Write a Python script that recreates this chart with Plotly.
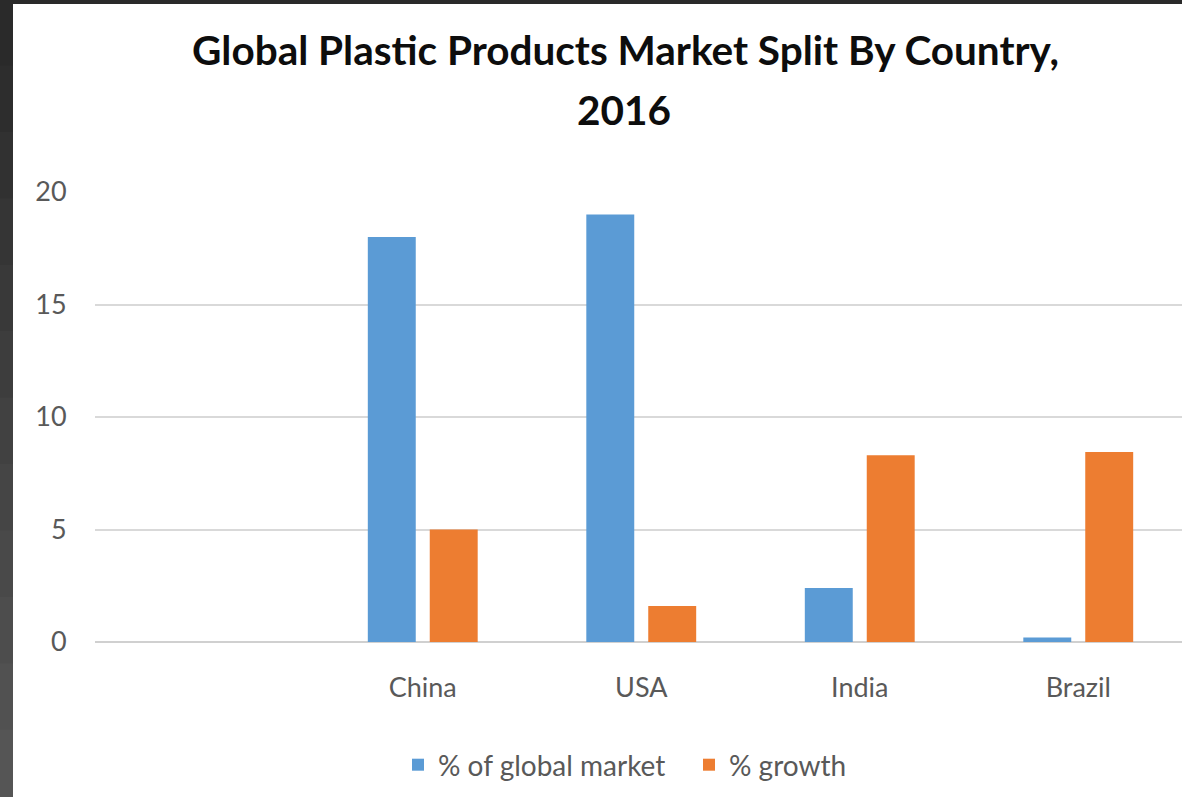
import plotly.graph_objects as go

categories = [" ", "China", "USA", "India", "Brazil"]
share_of_global_market = [None, 18.0, 19.0, 2.4, 0.2]
growth = [None, 5.0, 1.6, 8.3, 8.45]
series_names = ["% of global market", "% growth"]
y_ticks = [0, 5, 10, 15, 20]
title_lines = ["Global Plastic Products Market Split By Country,", "2016"]

BLUE = "#5b9bd5"
ORANGE = "#ed7d31"
GRAY = "#595959"
FONT = "Lato, Open Sans, sans-serif"

W, H = 1182, 797
L, R, T, B = 95, 0, 192, 155
pw = W - L - R
ph = H - T - B


def px_x(px):
    return (px - L) / pw


def px_y(py):
    return (H - B - py) / ph


fig = go.Figure()
fig.add_trace(go.Bar(x=categories, y=share_of_global_market, name=series_names[0],
                     marker=dict(color=BLUE, line=dict(width=0))))
fig.add_trace(go.Bar(x=categories, y=growth, name=series_names[1],
                     marker=dict(color=ORANGE, line=dict(width=0))))

shapes = []
# dark frame gradient on the left
steps = 12
for i in range(steps):
    y0 = i * H / steps
    y1 = (i + 1) * H / steps
    c = int(0x2a + (0x55 - 0x2a) * i / (steps - 1))
    col = f"rgb({c},{c},{c})"
    shapes.append(dict(type="rect", xref="paper", yref="paper",
                       x0=px_x(-5), x1=px_x(14), y0=px_y(y0 - 1), y1=px_y(y1 + 1),
                       fillcolor=col, line=dict(width=0), layer="below"))
# top strip
shapes.append(dict(type="rect", xref="paper", yref="paper",
                   x0=px_x(-5), x1=px_x(W + 5), y0=px_y(-5), y1=px_y(4),
                   fillcolor="#2a2a2a", line=dict(width=0), layer="below"))
# white chart area
shapes.append(dict(type="rect", xref="paper", yref="paper",
                   x0=px_x(13), x1=px_x(W + 5), y0=px_y(4), y1=px_y(H + 5),
                   fillcolor="white", line=dict(width=0), layer="below"))

annotations = [
    dict(text=f"<b>{title_lines[0]}</b>", xref="paper", yref="paper",
         x=px_x(625), y=px_y(50), xanchor="center", yanchor="middle",
         showarrow=False, font=dict(family=FONT, size=40.5, color="#0d0d0d")),
    dict(text=f"<b>{title_lines[1]}</b>", xref="paper", yref="paper",
         x=px_x(624), y=px_y(110), xanchor="center", yanchor="middle",
         showarrow=False, font=dict(family=FONT, size=40.5, color="#0d0d0d")),
]

fig.update_layout(
    width=W, height=H,
    margin=dict(l=L, r=R, t=T, b=B, pad=0),
    paper_bgcolor="#2a2a2a",
    plot_bgcolor="rgba(0,0,0,0)",
    barmode="group",
    bargap=0.433,
    bargroupgap=0.226,
    shapes=shapes,
    annotations=annotations,
    font=dict(family=FONT, color=GRAY, size=27),
    showlegend=True,
    legend=dict(orientation="h", x=px_x(398), xanchor="left",
                y=px_y(765), yanchor="middle",
                font=dict(family=FONT, size=28, color=GRAY),
                bgcolor="rgba(0,0,0,0)", itemwidth=30,
                entrywidth=246, entrywidthmode="pixels",
                traceorder="normal"),
    xaxis=dict(
        type="category",
        range=[-0.5, -0.5 + pw / 218.5],
        showgrid=False, zeroline=False,
        showline=False,
        ticks="outside", ticklen=22, tickcolor="rgba(0,0,0,0)",
        tickfont=dict(family=FONT, size=27, color=GRAY),
    ),
    yaxis=dict(
        range=[0, 20],
        tickvals=y_ticks,
        showgrid=True, gridcolor="#d9d9d9", gridwidth=2,
        zeroline=True, zerolinecolor="#d0d0d0", zerolinewidth=2,
        showline=False,
        ticks="outside", ticklen=22, tickcolor="rgba(0,0,0,0)",
        tickfont=dict(family=FONT, size=27, color=GRAY),
    ),
)

fig.write_html(
    "out.html",
    config={"displayModeBar": False},
    post_script="document.body.style.margin='0';document.body.style.overflow='hidden';"
                "document.body.style.background='#2a2a2a';",
)
